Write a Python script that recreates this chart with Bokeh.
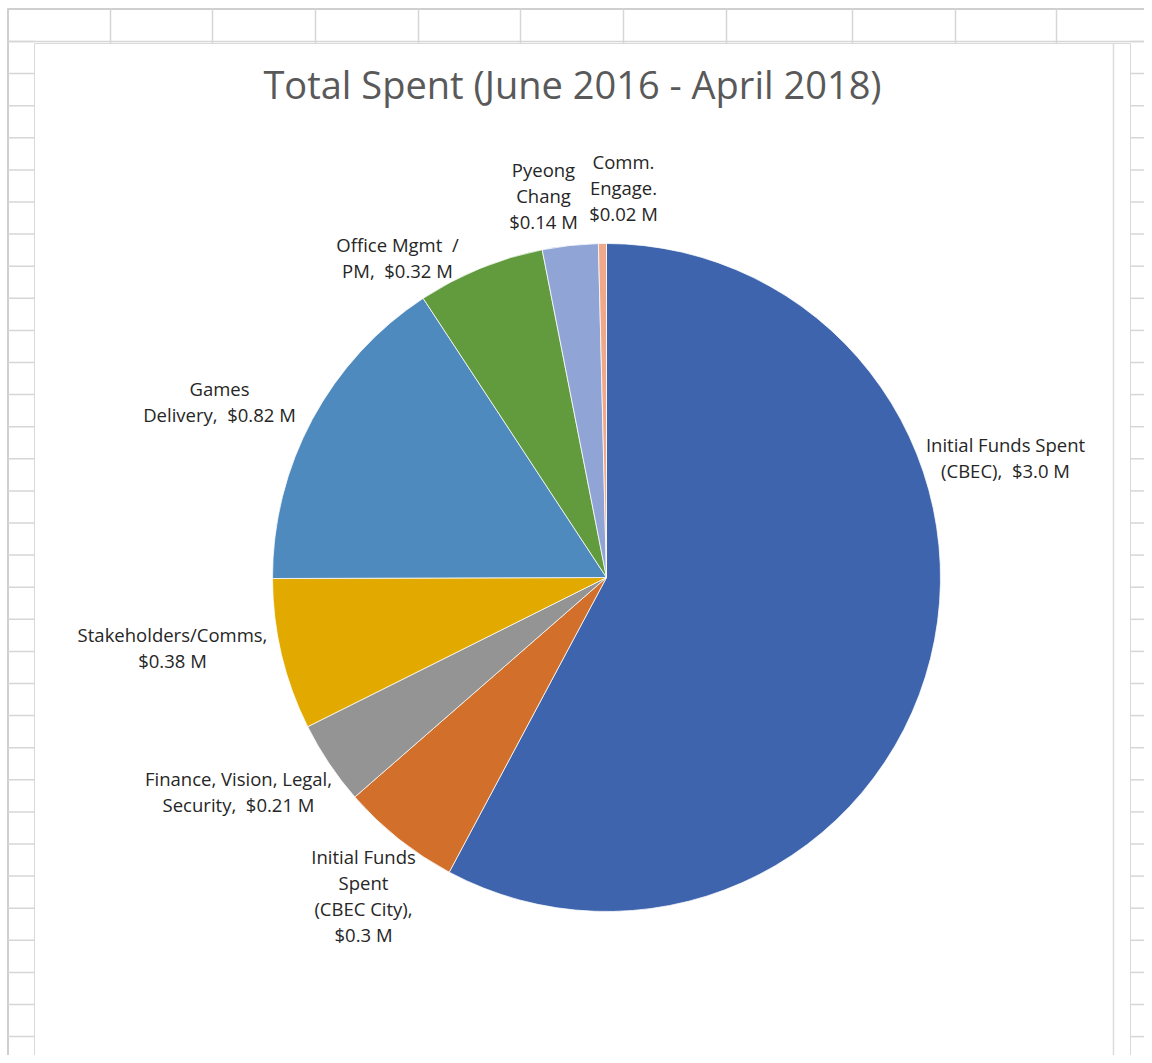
import numpy as np
from bokeh.plotting import figure
from bokeh.models import Range1d, ColumnDataSource
from bokeh.embed import file_html
from bokeh.resources import INLINE
from bokeh.core.properties import value

# ---------------- data ----------------
title_text = "Total Spent (June 2016 - April 2018)"
categories = [
    "Initial Funds Spent (CBEC)",
    "Initial Funds Spent (CBEC City)",
    "Finance, Vision, Legal, Security",
    "Stakeholders/Comms",
    "Games Delivery",
    "Office Mgmt / PM",
    "Pyeong Chang",
    "Comm. Engage.",
]
values = [3.0, 0.3, 0.21, 0.38, 0.82, 0.32, 0.14, 0.02]
NB = "\u00a0"
label_lines = [
    ["Initial Funds Spent", "(CBEC)," + NB + " $3.0 M"],
    ["Initial Funds", "Spent", "(CBEC City),", "$0.3 M"],
    ["Finance, Vision, Legal,", "Security," + NB + " $0.21 M"],
    ["Stakeholders/Comms,", "$0.38 M"],
    ["Games", "Delivery," + NB + " $0.82 M"],
    ["Office Mgmt" + NB + " /", "PM," + NB + " $0.32 M"],
    ["Pyeong", "Chang", "$0.14 M"],
    ["Comm.", "Engage.", "$0.02 M"],
]

# ---------------- styles / layout ----------------
colors = ["#3D64AC", "#D26F2B", "#949494", "#E2AA00",
          "#4F8ABE", "#629B3E", "#90A5D5", "#F0A88A"]
# label block anchors (screen px: center x, first-line anchor y)
label_anchor = [(1005, 444), (363, 856), (238, 778), (172, 634),
                (219, 388), (397, 244), (543, 169), (623, 161)]
LINE_STEP = 26
FONT = "Open Sans"

W, H = 1144, 1055


def Y(sy):
    return H - sy


p = figure(width=W, height=H, x_range=Range1d(0, W), y_range=Range1d(0, H),
           output_backend="svg", toolbar_location=None,
           x_axis_location=None, y_axis_location=None, min_border=0)
p.grid.visible = False
p.outline_line_color = None
p.background_fill_color = "white"
p.border_fill_color = "white"

# ---------------- spreadsheet grid ----------------
GRID = "#D6D6D6"
rows = 41 + 32.1 * np.arange(0, 32)
cols = [110, 212, 315, 418, 520, 623, 726, 852, 955, 1056]
p.segment(x0=[7], y0=[Y(8.5)], x1=[W], y1=[Y(8.5)], line_color="#CFCFCF", line_width=2)
p.segment(x0=[7.5], y0=[Y(8)], x1=[7.5], y1=[Y(H + 5)], line_color="#CFCFCF", line_width=2)
p.segment(x0=cols, y0=[Y(8)] * len(cols), x1=cols, y1=[Y(43)] * len(cols),
          line_color=GRID, line_width=1.5)
p.segment(x0=[7] * len(rows), y0=[Y(r) for r in rows], x1=[34] * len(rows),
          y1=[Y(r) for r in rows], line_color=GRID, line_width=1.5)
p.segment(x0=[1130] * len(rows), y0=[Y(r) for r in rows], x1=[W] * len(rows),
          y1=[Y(r) for r in rows], line_color=GRID, line_width=1.5)
p.segment(x0=[7], y0=[Y(41)], x1=[W], y1=[Y(41)], line_color=GRID, line_width=1.5)

# ---------------- chart area ----------------
p.quad(left=[34], right=[1130], top=[Y(43)], bottom=[-20],
       fill_color="white", line_color="#D9D9D9", line_width=1)
p.segment(x0=[1113], y0=[Y(43)], x1=[1113], y1=[Y(H + 10)], line_color="#DCDCDC", line_width=1.5)

# ---------------- pie ----------------
vals = np.array(values, dtype=float)
frac_end = np.cumsum(vals) / vals.sum()
frac_start = np.concatenate([[0.0], frac_end[:-1]])
theta0 = frac_start * 2 * np.pi
theta1 = frac_end * 2 * np.pi
src = ColumnDataSource(dict(
    cat=categories, val=values, color=colors,
    start=list(np.pi / 2 - theta1), end=list(np.pi / 2 - theta0),
))
CX, CY, R = 606, Y(577), 334
p.wedge(x=CX, y=CY, radius=R, start_angle="start", end_angle="end",
        fill_color="color", line_color="white", line_width=0.75, source=src)

# ---------------- labels ----------------
lx, ly, lt = [], [], []
for (ax, ay), lines in zip(label_anchor, label_lines):
    for i, t in enumerate(lines):
        lx.append(ax)
        ly.append(Y(ay + i * LINE_STEP))
        lt.append(t)
p.text(x=lx, y=ly, text=lt, text_align="center", text_baseline="alphabetic",
       text_font=value(FONT), text_font_size="18.5px", text_color="#262626")

# ---------------- title ----------------
p.text(x=[572], y=[Y(83)], text=[title_text], text_align="center",
       text_baseline="alphabetic", text_font=value(FONT),
       text_font_size="38px", text_color="#595959")

open("out.html", "w").write(file_html(p, INLINE))
